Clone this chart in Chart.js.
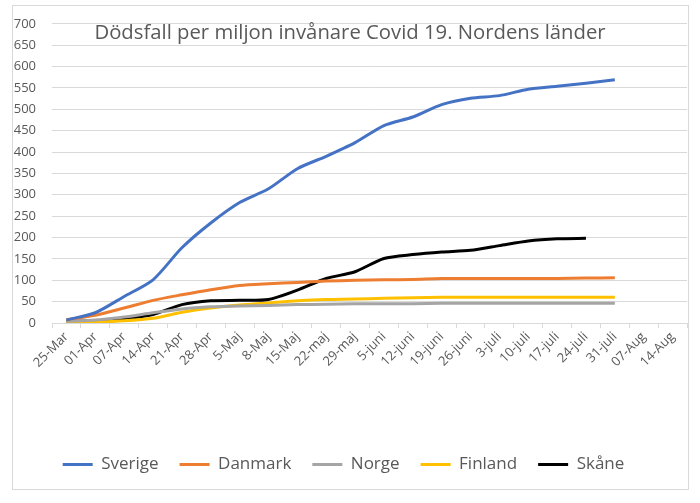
<!DOCTYPE html>
<html>
<head>
<meta charset="utf-8">
<script src="https://cdn.jsdelivr.net/npm/chart.js@4.4.1/dist/chart.umd.min.js"></script>
<style>
  html, body { margin: 0; padding: 0; background: #ffffff; }
  #wrap { position: relative; width: 700px; height: 503px; }
  canvas { display: block; }
</style>
</head>
<body>
<div id="wrap"><canvas id="c" width="700" height="503"></canvas></div>
<script>
const chartTitle = "Dödsfall per miljon invånare Covid 19. Nordens länder";
const categories = ["25-Mar","01-Apr","07-Apr","14-Apr","21-Apr","28-Apr","5-Maj","8-Maj","15-Maj","22-maj","29-maj","5-juni","12-juni","19-juni","26-juni","3-juli","10-juli","17-juli","24-juli","31-juli","07-Aug","14-Aug"];
const seriesNames = ["Sverige","Danmark","Norge","Finland","Skåne"];
const sverige = [7, 24, 62, 101, 176, 234, 282, 314, 361, 390, 422, 462, 482, 511, 526, 532, 547, 554, 561, 569];
const danmark = [8, 18, 35, 53, 66, 78, 88, 92, 95, 98, 100, 101, 102, 104, 104, 104, 104, 104, 105, 106];
const norge = [4, 7, 14, 24, 33, 38, 40, 41, 43, 44, 45, 45, 45, 46, 46, 46, 46, 46, 46, 46];
const finland = [1, 2, 5, 11, 25, 35, 42, 47, 52, 55, 56, 58, 59, 60, 60, 60, 60, 60, 60, 60];
const skane = [4, 5, 10, 20, 43, 52, 53, 55, 77, 104, 120, 151, 160, 166, 170, 181, 192, 197, 198];
const yTicks = [0, 50, 100, 150, 200, 250, 300, 350, 400, 450, 500, 550, 600, 650, 700];

const colors = ["#4472C4", "#ED7D31", "#A5A5A5", "#FFC000", "#000000"];
const values = [sverige, danmark, norge, finland, skane];
const textColor = "#595959";
const gridColor = "#d9d9d9";

const frameAndTitle = {
  id: "frameAndTitle",
  beforeDraw(chart) {
    const ctx = chart.ctx;
    ctx.save();
    ctx.fillStyle = "#ffffff";
    ctx.fillRect(0, 0, chart.width, chart.height);
    ctx.strokeStyle = gridColor;
    ctx.lineWidth = 1;
    ctx.strokeRect(12.5, 5.5, 676, 484);
    ctx.restore();
  },
  beforeDatasetsDraw(chart) {
    const ctx = chart.ctx;
    ctx.save();
    ctx.font = "20.3px 'Open Sans'";
    ctx.fillStyle = textColor;
    ctx.textAlign = "center";
    ctx.textBaseline = "middle";
    ctx.fillText(chartTitle, 350, 33);
    ctx.restore();
  }
};

new Chart(document.getElementById("c"), {
  type: "line",
  data: {
    labels: categories,
    datasets: seriesNames.map((n, i) => ({
      label: n,
      data: values[i],
      borderColor: colors[i],
      backgroundColor: colors[i],
      borderWidth: 3,
      pointRadius: 0,
      tension: 0.25,
      fill: false
    }))
  },
  options: {
    responsive: false,
    animation: false,
    layout: { padding: { left: 0, right: 13, top: 15, bottom: 20 } },
    plugins: {
      title: { display: false },
      tooltip: { enabled: false },
      legend: {
        position: "bottom",
        labels: {
          usePointStyle: true,
          pointStyle: "line",
          pointStyleWidth: 30,
          color: textColor,
          font: { family: "'Open Sans'", size: 17 },
          padding: 21
        }
      }
    },
    scales: {
      x: {
        offset: true,
        grid: { display: true, drawOnChartArea: false, drawTicks: true, tickLength: 5, offset: true, color: gridColor },
        border: { display: true, color: gridColor },
        ticks: {
          autoSkip: false,
          maxRotation: 45,
          minRotation: 45,
          padding: 1,
          color: textColor,
          font: { family: "'Open Sans'", size: 13 }
        },
        afterFit(scale) { scale.height = 112; }
      },
      y: {
        min: 0,
        max: 700,
        afterBuildTicks(scale) { scale.ticks = yTicks.map(v => ({ value: v })); },
        grid: { color: gridColor, drawTicks: false },
        border: { display: false },
        ticks: {
          padding: 16,
          color: textColor,
          font: { family: "'Open Sans'", size: 13 }
        },
        afterFit(scale) { scale.width = 52; }
      }
    }
  },
  plugins: [frameAndTitle]
});
</script>
</body>
</html>
